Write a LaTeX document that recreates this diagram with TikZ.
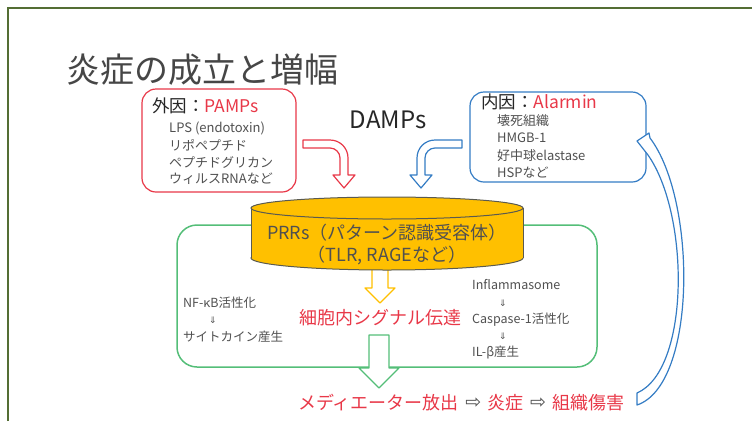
\documentclass[tikz,border=0pt]{standalone}
\usepackage{fontspec}
\setmainfont{Noto Sans CJK JP}
\newfontfamily\arrowfont{DejaVu Sans}
\usetikzlibrary{positioning}
\definecolor{framegreen}{RGB}{84,110,52}
\definecolor{pamred}{RGB}{232,56,72}
\definecolor{alblue}{RGB}{52,124,196}
\definecolor{boxgreen}{RGB}{84,190,120}
\definecolor{gold}{RGB}{255,192,0}
\definecolor{cylline}{RGB}{90,90,80}
\definecolor{textgray}{RGB}{80,80,80}
\definecolor{titlegray}{RGB}{70,70,70}

\begin{document}
\begin{tikzpicture}[x=1pt, y=-1pt,
    every node/.style={inner sep=0pt},
    title/.style={font=\fontsize{34}{38}\selectfont, text=titlegray},
    boxhead/.style={font=\fontsize{17.5}{20}\selectfont, anchor=west, text=black!85},
    boxitem/.style={font=\fontsize{13}{15}\selectfont, anchor=west, text=textgray},
    small/.style={font=\fontsize{12.5}{15}\selectfont, anchor=west, text=textgray},
    tinyarrow/.style={font=\arrowfont\fontsize{9}{10}\selectfont, text=textgray},
    thenarrow/.style={font=\arrowfont\fontsize{19}{22}\selectfont, text=textgray},
    big/.style={font=\fontsize{18}{21}\selectfont},
    blockarrow/.style={line width=1.2pt, fill=white, line join=round}
  ]
  \useasboundingbox (0,0) rectangle (752,421);
  \draw[framegreen, line width=2pt] (8,421) -- (8,8) -- (752,8);

  \node[title, anchor=west] (title) at (66,70) {炎症の成立と増幅};

  % exogenous
  \draw[pamred, line width=1.2pt, rounded corners=14pt] (142,89) rectangle (296,192);
  \node[boxhead] (pamps) at (152,106) {外因：\textcolor{pamred}{PAMPs}};
  \foreach \t [count=\i] in {LPS (endotoxin), リポペプチド, ペプチドグリカン, ウィルスRNAなど}
    \node[boxitem] (pamp\i) at (169,{111+17*\i}) {\t};

  % endogenous
  \draw[alblue, line width=1.2pt, rounded corners=14pt] (470,92) rectangle (646,182);
  \node[boxhead] (alarmin) at (481,102) {内因：\textcolor{pamred}{Alarmin}};
  \foreach \t [count=\i] in {壊死組織, HMGB-1, 好中球elastase, HSPなど}
    \node[boxitem] (alarm\i) at (497,{103+17.5*\i}) {\t};

  \node[font=\fontsize{24}{28}\selectfont, text=black!85] (damps) at (388,120) {DAMPs};

  % bent arrows
  \draw[pamred, blockarrow] (303,140) -- (330,140) .. controls (340,140) and (348,148) .. (348,158)
    -- (348,175) -- (355,175) -- (344,188) -- (333,175) -- (340,175) -- (340,158)
    .. controls (340,152.5) and (335.5,148) .. (330,148) -- (303,148) -- cycle;
  \draw[alblue, blockarrow] (462,140) -- (435,140) .. controls (425,140) and (417,148) .. (417,158)
    -- (417,175) -- (410,175) -- (421,188) -- (432,175) -- (425,175) -- (425,158)
    .. controls (425,152.5) and (429.5,148) .. (435,148) -- (462,148) -- cycle;

  \draw[boxgreen, line width=1.5pt, rounded corners=20pt] (177,225) rectangle (597,367);

  \draw[gold, blockarrow] (372,262) -- (372,288) -- (365,288) -- (380,303) -- (395,288) -- (388,288) -- (388,262) -- cycle;

  % receptor
  \filldraw[fill=gold, draw=cylline, line width=1pt] (387,258) ellipse [x radius=136, y radius=12];
  \fill[gold] (251,208) rectangle (523,258);
  \draw[cylline, line width=1pt] (251,208) -- (251,258) (523,208) -- (523,258);
  \filldraw[fill=gold, draw=cylline, line width=1pt] (387,208) ellipse [x radius=136, y radius=11];
  \node[big, text=textgray] (prr) at (387,233) {PRRs（パターン認識受容体）};
  \node[big, text=textgray] (prrex) at (387,255) {（TLR, RAGEなど）};

  \node[big, text=pamred] (signal) at (380,318) {細胞内シグナル伝達};

  \node[small] (nfkb) at (183,303) {NF-κB活性化};
  \node[tinyarrow] (larr) at (213,320) {⇓};
  \node[small] (cyto) at (183,337) {サイトカイン産生};

  \node[small] (inflam) at (472,285) {Inflammasome};
  \node[tinyarrow] (rarr1) at (503,303) {⇓};
  \node[small] (casp) at (472,320) {Caspase-1活性化};
  \node[tinyarrow] (rarr2) at (503,336) {⇓};
  \node[small] (ilb) at (472,352) {IL-β産生};

  \draw[boxgreen, blockarrow] (369,335) -- (369,368) -- (359,368) -- (379,388) -- (399,368) -- (389,368) -- (389,335) -- cycle;

  \node[big, text=pamred, anchor=west] (mediator) at (298,403) {メディエーター放出};
  \node[thenarrow, right=6pt of mediator] (then1) {⇨};
  \node[big, text=pamred, right=6pt of then1] (inflam2) {炎症};
  \node[thenarrow, right=6pt of inflam2] (then2) {⇨};
  \node[big, text=pamred, right=6pt of then2] (damage) {組織傷害};

  % feedback
  \draw[alblue, line width=1.2pt, fill=white, line join=round] (637,393) .. controls (690,370) and (690,215) .. (648,155)
    -- (637,141) -- (649,133) -- (650,138) .. controls (697,200) and (697,385) .. (637,405) -- cycle;
\end{tikzpicture}
\end{document}
